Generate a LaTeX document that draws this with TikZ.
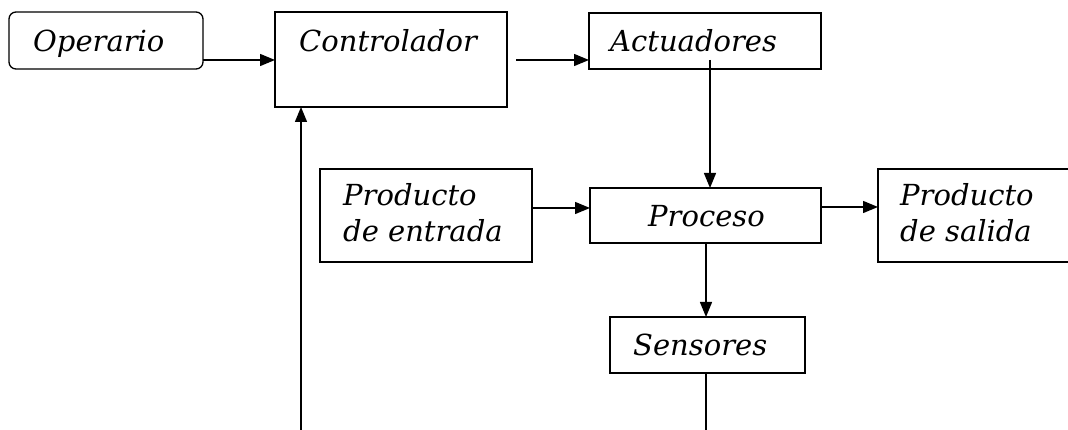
\documentclass[tikz,border=0pt]{standalone}
\usepackage{fontspec}
\setmainfont{DejaVu Serif}
\usetikzlibrary{arrows.meta,calc}

\tikzset{
  box/.style={draw, line width=1.3pt, inner sep=0pt, outer sep=0pt, anchor=north west},
  txt/.style={font=\fontsize{29}{36}\selectfont\itshape, inner sep=0pt, anchor=base west, align=left},
  arr/.style={line width=1.4pt, -{Triangle[length=15pt,width=12pt]}},
  wire/.style={line width=1.4pt},
}

\begin{document}
\begin{tikzpicture}[x=1pt,y=1pt]
  \useasboundingbox (0,0) rectangle (1068,430);
  \clip (0,0) rectangle (1068,430);

  % blocks
  \node[box, rounded corners=7pt, minimum width=194pt, minimum height=57pt] (op) at (9,418) {};
  \node[box, minimum width=232pt, minimum height=95pt] (ctrl) at (275,418) {};
  \node[box, minimum width=232pt, minimum height=56pt] (act) at (589,417) {};
  \node[box, minimum width=212pt, minimum height=93pt] (ent) at (320,261) {};
  \node[box, minimum width=231pt, minimum height=55pt] (proc) at (590,242) {};
  \node[box, minimum width=200pt, minimum height=93pt] (sal) at (878,261) {};
  \node[box, minimum width=195pt, minimum height=56pt] (sens) at (610,113) {};

  % labels
  \node[txt] (op-t) at (33,378) {Operario};
  \node[txt] (ctrl-t) at (299,378) {Controlador};
  \node[txt] (act-t) at (610,378) {Actuadores};
  \node[txt] (ent-t) at (343,224) {Producto};
  \node[txt] (ent-t2) at (343,188) {de entrada};
  \node[txt] (proc-t) at (648,203) {Proceso};
  \node[txt] (sal-t) at (900,224) {Producto};
  \node[txt] (sal-t2) at (900,188) {de salida};
  \node[txt] (sens-t) at (633,74) {Sensores};

  % signal flow
  \coordinate (act-out) at ([xshift=5pt,yshift=9pt]act.south);
  \coordinate (proc-out) at ([xshift=0.5pt]proc.south);
  \draw[arr] ([yshift=9pt]op.south east) -- ([yshift=-48pt]ctrl.north west);
  \draw[arr] ([xshift=9pt,yshift=-48pt]ctrl.north east) -- ([yshift=-47pt]act.north west);
  \draw[arr] (act-out) -- (act-out |- proc.north);
  \draw[arr] ([yshift=-39pt]ent.north east) -- ([yshift=-20pt]proc.north west);
  \draw[arr] ([yshift=-19pt]proc.north east) -- ([yshift=-38pt]sal.north west);
  \draw[arr] (proc-out) -- (proc-out |- sens.north);

  % feedback path leaving the bottom edge
  \coordinate (sens-out) at (706,0);
  \coordinate (fb-in) at (301,0);
  \draw[wire] (sens.south -| sens-out) -- (sens-out);
  \draw[arr] (fb-in) -- (fb-in |- ctrl.south);
\end{tikzpicture}
\end{document}
